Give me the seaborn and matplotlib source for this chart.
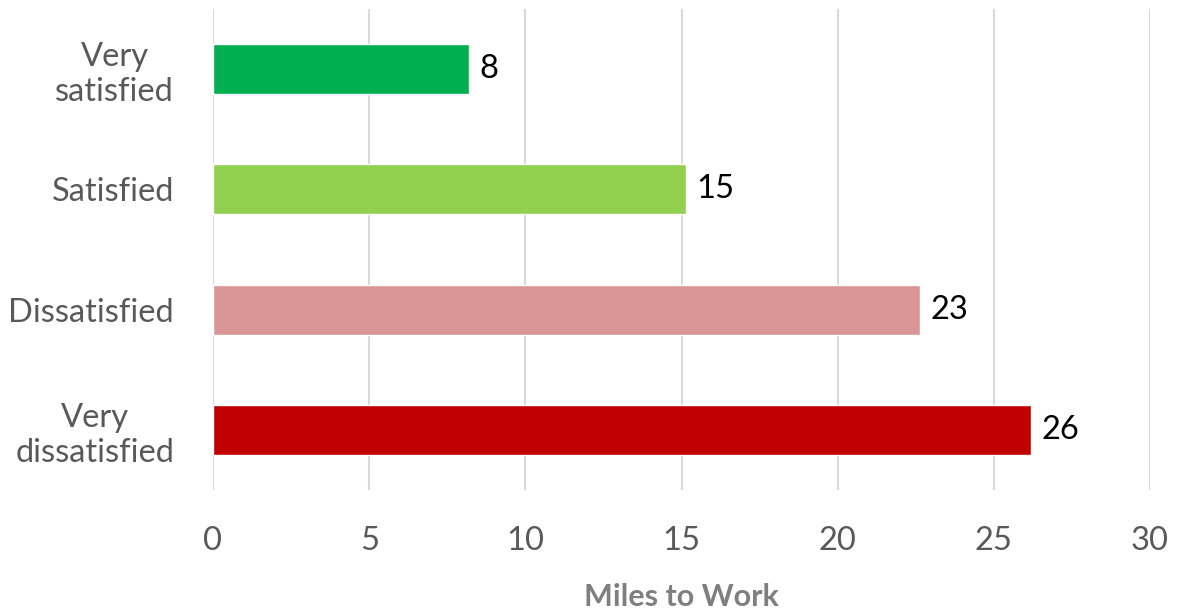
import matplotlib
matplotlib.use("Agg")
import matplotlib.pyplot as plt
import seaborn as sns
import pandas as pd

categories = ["Very\nsatisfied", "Satisfied", "Dissatisfied", "Very\ndissatisfied"]
miles = [8.2, 15.15, 22.65, 26.2]
bar_labels = ["8", "15", "23", "26"]
colors = ["#00B050", "#92D050", "#D99694", "#C00000"]
x_ticks = [0, 5, 10, 15, 20, 25, 30]

sns.set_theme(style="white")
plt.rcParams["font.family"] = ["Lato", "DejaVu Sans"]

df = pd.DataFrame({"cat": categories, "miles": miles})

fig = plt.figure(figsize=(11.79, 6.15), dpi=100)
ax = fig.add_axes([213 / 1179, 1 - 490 / 615, 937 / 1179, 481 / 615])

sns.barplot(data=df, x="miles", y="cat", hue="cat", palette=colors, order=categories,
            hue_order=categories, width=0.417, legend=False, ax=ax, saturation=1)

ax.set_xlim(0, 30)
ax.set_ylim(3.5, -0.5)
ax.set_xticks(x_ticks)
ax.set_xticklabels([str(t) for t in x_ticks])
ax.xaxis.grid(True, color="#D9D9D9", linewidth=1.5)
ax.set_axisbelow(True)
for s in ax.spines.values():
    s.set_visible(False)
ax.tick_params(axis="both", length=0, labelsize=23.5, labelcolor="#595959")
ax.tick_params(axis="x", pad=26)
ax.tick_params(axis="y", pad=28)
for lbl in ax.get_yticklabels():
    lbl.set_horizontalalignment("right")
    lbl.set_multialignment("center")
    lbl.set_linespacing(1.2)

for i, (v, t) in enumerate(zip(miles, bar_labels)):
    ax.text(v + 0.32, i, t, va="center", ha="left", fontsize=23.5, color="black")

ax.set_ylabel("")
ax.set_xlabel("Miles to Work", fontsize=22, fontweight="bold", color="#7F7F7F", labelpad=19)

fig.savefig("out.png", dpi=100)
